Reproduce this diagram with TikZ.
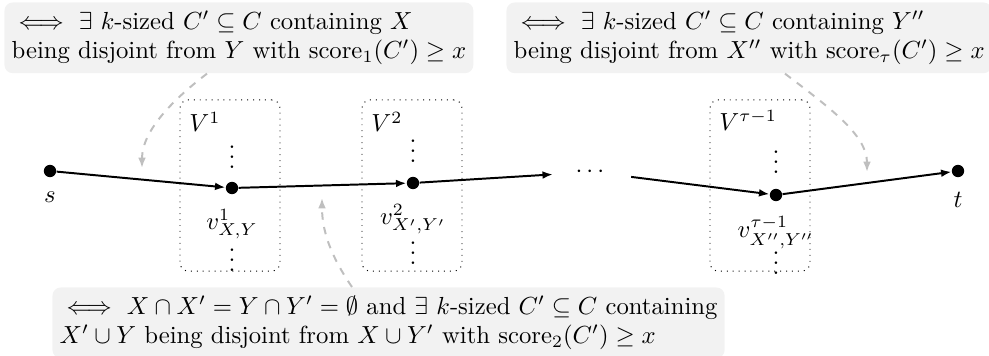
\documentclass[tikz,border=0pt]{standalone}
\usepackage{amsmath}
\usepackage{amssymb}
\usetikzlibrary{calc, positioning}
\usetikzlibrary{arrows.meta}

\begin{document}
\begin{tikzpicture}[x=0.405pt, y=-0.405pt,
  vertex/.style={circle, fill=black, inner sep=0pt, minimum size=5pt},
  flow/.style={thick, -{Latex[length=4.2pt]}},
  group/.style={draw, dotted, rounded corners=3.3pt, minimum width=40.5pt, minimum height=69.3pt},
  remark/.style={fill=black!5, rounded corners=3.3pt, align=left, inner xsep=2.9pt, inner ysep=3.3pt, anchor=north west},
  hint/.style={black!25, thick, dashed, -{Latex[length=4.2pt]}},
  vlabel/.style={label distance=2.3pt}]

\useasboundingbox (0,0) rectangle (989,356);

% layers V^1, V^2, ..., V^{tau-1}
\node[group] (G1) at (230,185.5) {};
\node[group] (G2) at (412,185.5) {};
\node[group] (G3) at (760,185.5) {};
\node[anchor=north west] (L1) at ([shift={(0.5pt,-1.5pt)}]G1.north west) {$V^1$};
\node[anchor=north west] (L2) at ([shift={(0.5pt,-1.5pt)}]G2.north west) {$V^2$};
\node[anchor=north west] (L3) at ([shift={(0.5pt,-1pt)}]G3.north west) {$V^{\tau-1}$};

\node[vertex, label={[vlabel]below:$s$}] (s) at (50,171) {};
\node[vertex, label={[vlabel]below:$v^1_{X,Y}$}] (v1) at (232,188) {};
\node[vertex, label={[vlabel]below:$v^2_{X',Y'}$}] (v2) at (413,183) {};
\node[inner xsep=9pt] (dots) at (592,172) {$\cdots$};
\node[vertex, label={[vlabel]below:$v^{\tau-1}_{X'',Y''}$}] (vt) at (776,195) {};
\node[vertex, label={[vlabel]below:$t$}] (t) at (958,171) {};

\foreach \nm/\xx/\ya/\yb in {A/232/150/253, B/413/144/246, C/776/155/256} {
  \node[inner sep=0pt] (\nm up) at (\xx,\ya) {$\vdots$};
  \node[inner sep=0pt] (\nm dn) at (\xx,\yb) {$\vdots$};
}

\draw[flow] (s) -- (v1);
\draw[flow] (v1) -- (v2);
\draw[flow] (v2) -- (dots);
\draw[flow] (dots) -- (vt);
\draw[flow] (vt) -- (t);

\node[remark] (top1) at (4,2)
  {$\iff$ $\exists$ $k$-sized $C' \subseteq C$ containing $X$\\
   being disjoint from $Y$ with $\mathrm{score}_1(C') \geq x$};
\node[remark] (top2) at (506,2)
  {$\iff$ $\exists$ $k$-sized $C' \subseteq C$ containing $Y''$\\
   being disjoint from $X''$ with $\mathrm{score}_\tau(C') \geq x$};
\node[remark] (bot) at (52,287)
  {$\iff$ $X \cap X' = Y \cap Y' = \emptyset$ and $\exists$ $k$-sized $C' \subseteq C$ containing\\
   $X' \cup Y$ being disjoint from $X \cup Y'$ with $\mathrm{score}_2(C') \geq x$};

\coordinate (h1) at (142,168);
\coordinate (h2) at (867,172);
\coordinate (h3) at (322,198);
\draw[hint] (207,0 |- top1.south) .. controls (175,98) and (142,130) .. (h1);
\draw[hint] (785,0 |- top2.south) .. controls (830,108) and (867,135) .. (h2);
\draw[hint] (352,0 |- bot.north) .. controls (330,255) and (322,230) .. (h3);
\end{tikzpicture}
\end{document}
